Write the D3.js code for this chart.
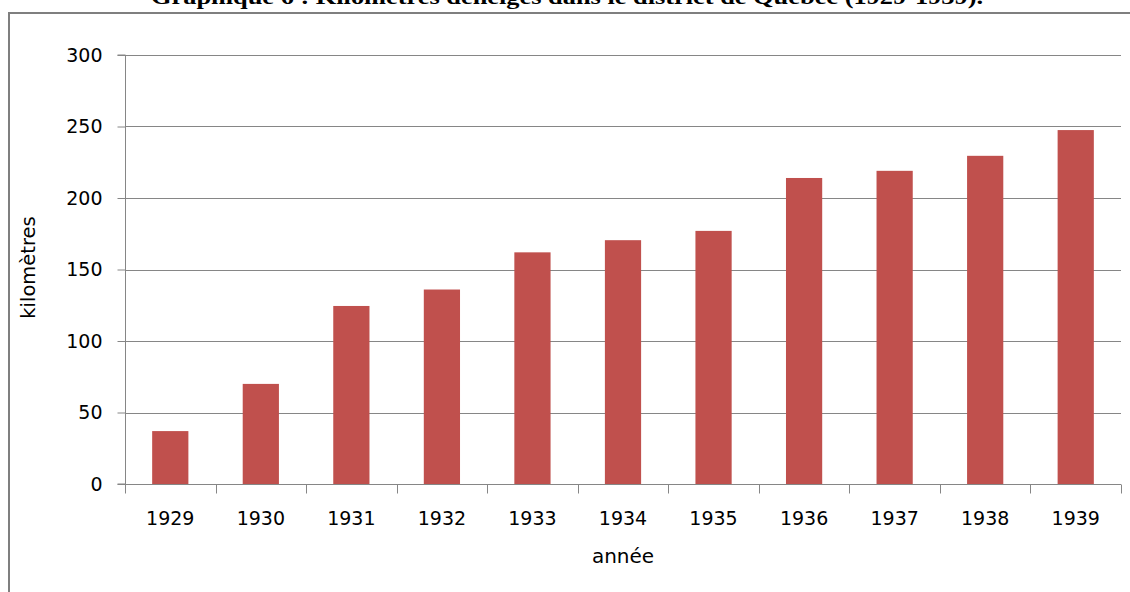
<!DOCTYPE html>
<html>
<head>
<meta charset="utf-8">
<script src="https://cdn.jsdelivr.net/npm/d3@7"></script>
<style>
  body { margin: 0; background: #fff; }
  svg { display: block; }
</style>
</head>
<body>
<div id="chart"></div>
<script>
// data
const years = ["1929", "1930", "1931", "1932", "1933", "1934", "1935", "1936", "1937", "1938", "1939"];
const kilometres = [37, 70, 124.5, 136, 162, 170.5, 177, 214, 219, 229.5, 247.5];
const yTicks = [0, 50, 100, 150, 200, 250, 300];
const title = "Graphique 6 : Kilomètres déneigés dans le district de Québec (1929-1939).";

const width = 1130;
const height = 592;
const margin = { top: 55, left: 125, bottom: 108, right: 9 };

const svg = d3.select("#chart").append("svg")
    .attr("width", width)
    .attr("height", height);

// title, cut off at the top edge as in the source
svg.append("text")
    .attr("x", 151)
    .attr("y", 4)
    .attr("textLength", 832)
    .attr("lengthAdjust", "spacingAndGlyphs")
    .style("font-family", "'Liberation Serif', serif")
    .style("font-weight", "bold")
    .style("font-size", "22px")
    .text(title);

// outer frame (only top and left visible)
svg.append("path")
    .attr("d", `M9,${height} V13 H${width}`)
    .attr("fill", "none")
    .attr("stroke", "#7f7f7f")
    .attr("stroke-width", 2);

const x = d3.scaleBand()
    .domain(years)
    .range([margin.left, width - margin.right])
    .paddingInner(0.6)
    .paddingOuter(0.3);

const y = d3.scaleLinear()
    .domain([0, 300])
    .range([height - margin.bottom, margin.top]);

// gridlines
svg.append("g")
    .selectAll("line")
    .data(yTicks)
    .join("line")
    .attr("x1", margin.left)
    .attr("x2", width - margin.right)
    .attr("y1", d => Math.round(y(d)) + 0.5)
    .attr("y2", d => Math.round(y(d)) + 0.5)
    .attr("stroke", "#868686");

// bars
svg.append("g")
    .selectAll("rect")
    .data(years)
    .join("rect")
    .attr("x", d => x(d))
    .attr("width", x.bandwidth())
    .attr("y", (d, i) => y(kilometres[i]))
    .attr("height", (d, i) => y(0) - y(kilometres[i]))
    .attr("fill", "#c0504d");

const font = "'DejaVu Sans', sans-serif";

// y axis
const axisY = d3.axisLeft(y).tickValues(yTicks).tickSize(8).tickPadding(15);
svg.append("g")
    .attr("transform", `translate(${margin.left + 0.5}, 0)`)
    .call(axisY)
    .call(g => g.selectAll("line, path").attr("stroke", "#868686"))
    .call(g => g.select(".domain").attr("d", `M-8,${y(300)}H0V${y(0)}H-8`))
    .call(g => g.selectAll("text").style("font-family", font).style("font-size", "19px").attr("fill", "#000"));

// x axis: ticks sit on the band boundaries
const xStep = x.step();
const bounds = d3.range(years.length + 1).map(i => margin.left + i * xStep);
const gx = svg.append("g").attr("transform", `translate(0, ${Math.round(y(0)) + 0.5})`);
gx.append("line")
    .attr("x1", margin.left)
    .attr("x2", width - margin.right)
    .attr("stroke", "#868686");
gx.selectAll("line.tick")
    .data(bounds)
    .join("line")
    .attr("class", "tick")
    .attr("x1", d => Math.round(d) + 0.5)
    .attr("x2", d => Math.round(d) + 0.5)
    .attr("y1", 0)
    .attr("y2", 9)
    .attr("stroke", "#868686");
gx.selectAll("text")
    .data(years)
    .join("text")
    .attr("x", d => x(d) + x.bandwidth() / 2)
    .attr("y", 40)
    .attr("text-anchor", "middle")
    .style("font-family", font)
    .style("font-size", "19px")
    .text(d => d);

// axis titles
svg.append("text")
    .attr("x", 623)
    .attr("y", 563)
    .attr("text-anchor", "middle")
    .style("font-family", font)
    .style("font-size", "20px")
    .text("année");

svg.append("text")
    .attr("transform", `translate(35, ${y(150) - 2}) rotate(-90)`)
    .attr("text-anchor", "middle")
    .style("font-family", font)
    .style("font-size", "19.5px")
    .text("kilomètres");
</script>
</body>
</html>
